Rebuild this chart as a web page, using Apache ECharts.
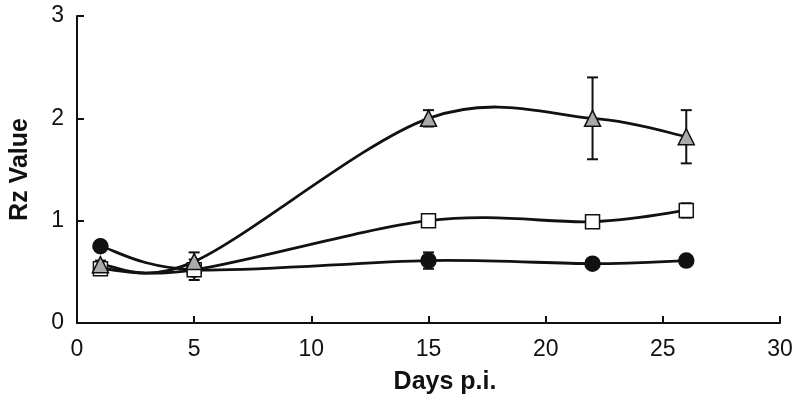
<!DOCTYPE html>
<html><head><meta charset="utf-8">
<script src="https://cdn.jsdelivr.net/npm/echarts@6/dist/echarts.min.js"></script>
<style>html,body{margin:0;padding:0;background:#fff}#c{width:800px;height:408px}</style>
</head><body><div id="c"></div>
<script>
const days = [1, 5, 15, 22, 26];
const triVals = [0.57, 0.60, 2.00, 2.00, 1.82];
const triErr  = [0.04, 0.09, 0.08, 0.40, 0.26];
const sqVals  = [0.53, 0.52, 1.00, 0.99, 1.10];
const sqErr   = [0.03, 0.10, 0.04, 0.05, 0.07];
const cirVals = [0.75, 0.52, 0.61, 0.58, 0.61];
const cirErr  = [0.02, 0.06, 0.08, 0.03, 0.03];
const xTicks = [0, 5, 10, 15, 20, 25, 30];
const yTicks = [0, 1, 2, 3];

function pts(vals){ return days.map((d,i)=>[d, vals[i]]); }
function errData(vals, errs){ return days.map((d,i)=>[d, vals[i]-errs[i], vals[i]+errs[i]]); }
function errSeries(vals, errs){
  return {
    type:'custom', z:1, silent:true,
    data: errData(vals, errs),
    renderItem:function(params, api){
      const x = api.value(0);
      const lo = api.coord([x, api.value(1)]);
      const hi = api.coord([x, api.value(2)]);
      const w = 5.5;
      const st = {stroke:'#111', lineWidth:2};
      return {type:'group', children:[
        {type:'line', shape:{x1:lo[0],y1:lo[1],x2:hi[0],y2:hi[1]}, style:st},
        {type:'line', shape:{x1:lo[0]-w,y1:lo[1],x2:lo[0]+w,y2:lo[1]}, style:st},
        {type:'line', shape:{x1:hi[0]-w,y1:hi[1],x2:hi[0]+w,y2:hi[1]}, style:st}
      ]};
    }
  };
}
// smooth curve (Catmull-Rom through the data points, positioned by the axes)
function curveSeries(vals){
  return {
    type:'custom', z:2, silent:true,
    data: pts(vals),
    renderItem:function(params, api){
      if (params.dataIndex !== 0) return {type:'group', children:[]};
      const P = days.map((d,i)=>api.coord([d, vals[i]]));
      let path = 'M' + P[0][0] + ' ' + P[0][1];
      for (let i=0;i<P.length-1;i++){
        const p0 = P[Math.max(i-1,0)], p1 = P[i], p2 = P[i+1], p3 = P[Math.min(i+2,P.length-1)];
        const c1 = [p1[0]+(p2[0]-p0[0])/6, p1[1]+(p2[1]-p0[1])/6];
        const c2 = [p2[0]-(p3[0]-p1[0])/6, p2[1]-(p3[1]-p1[1])/6];
        path += ' C' + c1[0]+' '+c1[1]+' '+c2[0]+' '+c2[1]+' '+p2[0]+' '+p2[1];
      }
      return {type:'path', shape:{pathData:path}, style:{fill:null, stroke:'#111', lineWidth:2.8}};
    }
  };
}
function markSeries(vals, symbol, fill, size){
  return {
    type:'scatter', z:3, data: pts(vals),
    symbol: symbol, symbolSize: size,
    itemStyle:{color:fill, borderColor:'#111', borderWidth:1.5, opacity:1}
  };
}
const chart = echarts.init(document.getElementById('c'), null, {renderer:'canvas'});
chart.setOption({
  animation:false,
  grid:{left:75, right:20, top:16, bottom:85, containLabel:false},
  xAxis:{
    type:'value', min:xTicks[0], max:xTicks[xTicks.length-1], interval:5,
    name:'Days p.i.', nameLocation:'middle', nameGap:47,
    nameTextStyle:{fontFamily:'Liberation Sans', fontWeight:'bold', fontSize:25, color:'#111', padding:[0,0,0,33]},
    axisLine:{lineStyle:{color:'#111', width:2}},
    axisTick:{inside:true, length:7, lineStyle:{color:'#111', width:2}},
    axisLabel:{fontFamily:'Liberation Sans', fontSize:23, color:'#111', margin:15},
    splitLine:{show:false}
  },
  yAxis:{
    type:'value', min:yTicks[0], max:yTicks[yTicks.length-1], interval:1,
    name:'Rz Value', nameLocation:'middle', nameGap:44,
    nameTextStyle:{fontFamily:'Liberation Sans', fontWeight:'bold', fontSize:25, color:'#111'},
    axisLine:{show:true, lineStyle:{color:'#111', width:2}},
    axisTick:{show:true, inside:true, length:7, lineStyle:{color:'#111', width:2}},
    axisLabel:{fontFamily:'Liberation Sans', fontSize:23, color:'#111', margin:13},
    splitLine:{show:false}
  },
  series:[
    errSeries(cirVals, cirErr),
    errSeries(sqVals, sqErr),
    errSeries(triVals, triErr),
    curveSeries(cirVals),
    curveSeries(sqVals),
    curveSeries(triVals),
    markSeries(cirVals, 'circle', '#111', 15),
    markSeries(sqVals, 'rect', '#fff', 14),
    markSeries(triVals, 'triangle', '#aaaaaa', 16)
  ]
});
</script></body></html>
